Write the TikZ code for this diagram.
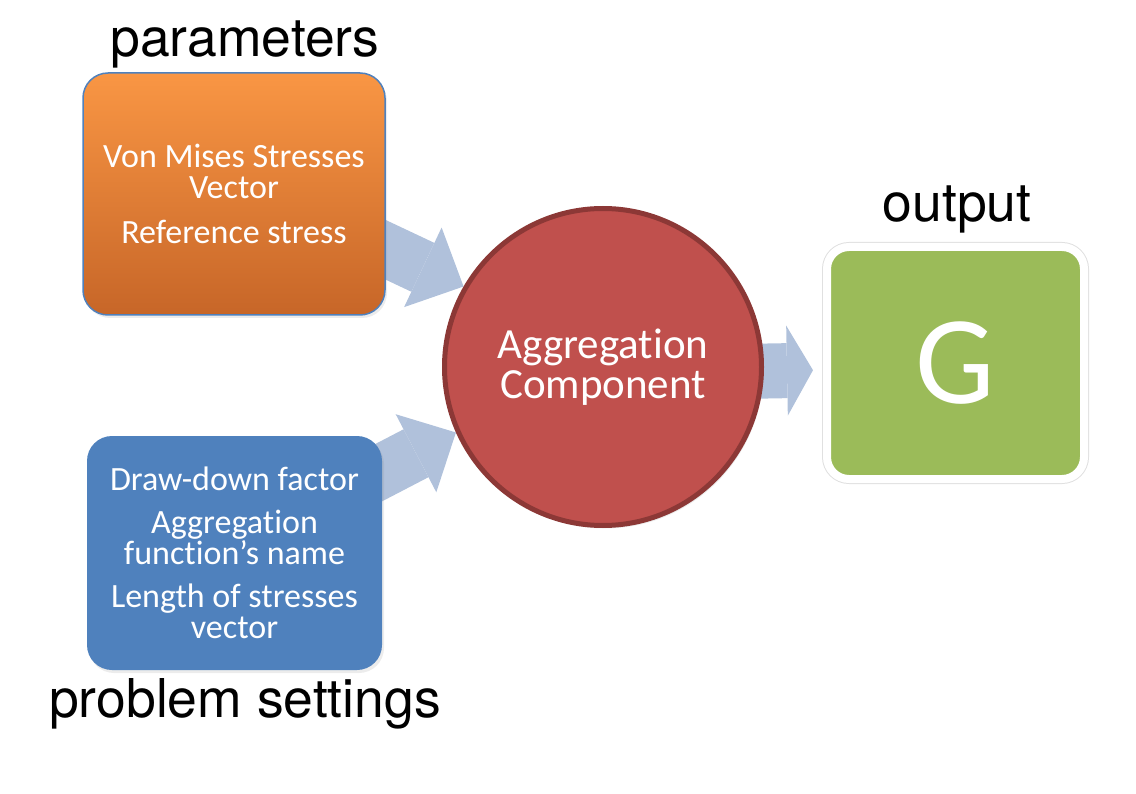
\documentclass[tikz,border=0pt]{standalone}
\usepackage{fontspec}
\setmainfont{Carlito}[Ligatures=NoCommon]
\newfontfamily\labelfont{TeX Gyre Heros}
\usetikzlibrary{arrows.meta,shadows,backgrounds}
\definecolor{orangetop}{RGB}{249,150,68}
\definecolor{orangebot}{RGB}{199,102,40}
\definecolor{boxblue}{RGB}{79,129,189}
\definecolor{circred}{RGB}{192,80,77}
\definecolor{circline}{RGB}{140,56,54}
\definecolor{boxgreen}{RGB}{155,187,89}
\definecolor{arrowblue}{RGB}{176,193,219}
\tikzset{
  softshadow/.style={drop shadow={opacity=0.15,shadow xshift=2pt,shadow yshift=-3pt}},
  boxtext/.style={text=white,align=center,font=\fontsize{34}{31}\selectfont},
  titlelabel/.style={anchor=base,font=\labelfont\fontsize{53.5}{60}\selectfont},
  fatarrow/.style={draw=arrowblue,line width=54pt,-{Triangle[width=88pt,length=45pt,line width=0pt]}},
  fatarrowright/.style={draw=arrowblue,line width=55pt,-{Triangle[width=90pt,length=26pt,line width=0pt]}}
}
\begin{document}
\begin{tikzpicture}[x=1pt,y=-1pt]
\useasboundingbox (0,0) rectangle (1136,794);

\node[softshadow,draw=boxblue,line width=1.5pt,rounded corners=25pt,top color=orangetop,bottom color=orangebot,
  minimum width=302pt,minimum height=242pt,boxtext] (par) at (234,194)
  {Von Mises Stresses\\Vector\\[14pt]Reference stress};

\node[softshadow,fill=boxblue,rounded corners=25pt,minimum width=295pt,minimum height=234pt,boxtext] (prob) at (234.5,553)
  {Draw-down factor\\[12pt]Aggregation\\function’s name\\[12pt]Length of stresses\\vector};

\node[softshadow,circle,fill=circred,draw=circline,line width=5pt,minimum size=317pt,inner sep=0pt,
  text=white,align=center,font=\fontsize{43}{40}\selectfont] (agg) at (603,367)
  {Aggregation\\Component};

\node[drop shadow={opacity=0.2,shadow xshift=2pt,shadow yshift=-3pt},
  preaction={draw=black!12,line width=10pt},
  fill=boxgreen,draw=white,line width=8pt,rounded corners=22pt,minimum width=257pt,minimum height=232pt,
  text=white,font=\fontsize{126}{126}\selectfont] (out) at (955.5,363) {G};

\node[titlelabel] (lpar) at (245,57) {parameters};
\node[titlelabel] (lout) at (957,222) {output};
\node[titlelabel] (lprob) at (245,717) {problem settings};

\coordinate (s1) at (350,233);
\coordinate (s2) at (355,485);
\begin{pgfonlayer}{background}
\draw[fatarrow] (s1) -- (agg.150.7);
\draw[fatarrow] (s2) -- (agg.204);
\draw[fatarrowright,shorten >=10pt] ([yshift=-7pt]agg.center) -- ([yshift=-7pt]out.west);
\end{pgfonlayer}
\end{tikzpicture}
\end{document}
